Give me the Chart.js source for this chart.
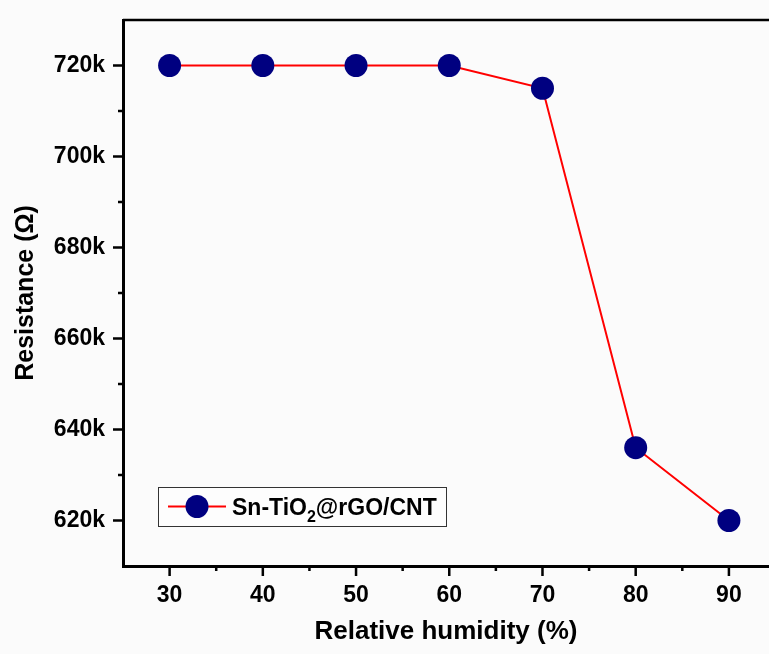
<!DOCTYPE html>
<html>
<head>
<meta charset="utf-8">
<script src="https://cdn.jsdelivr.net/npm/chart.js@4.4.1/dist/chart.umd.min.js"></script>
<style>
  body { margin: 0; background: #fbfbfb; }
  #wrap { width: 769px; height: 654px; position: relative; }
</style>
</head>
<body>
<div id="wrap"><canvas id="humidity-chart"></canvas></div>
<script>
// DATA ------------------------------------------
const humidity = [30, 40, 50, 60, 70, 80, 90];
const resistance = [720000, 720000, 720000, 720000, 715000, 636000, 620000];

const xTicks = [30, 40, 50, 60, 70, 80, 90];
const xMinorTicks = [35, 45, 55, 65, 75, 85];
const yTicks = [620000, 640000, 660000, 680000, 700000, 720000];
const yMinorTicks = [630000, 650000, 670000, 690000, 710000];

// legend text split so the "2" can be drawn as a subscript
const legendParts = ["Sn-TiO", "2", "@rGO/CNT"];

const FONT = "'Liberation Sans', Arial, sans-serif";
const NAVY = "#000080";

// frame line on top + major / minor tick marks, drawn outwards like Origin
const tickMarks = {
  id: "tickMarks",
  afterDraw(chart) {
    const { ctx, chartArea, scales: { x, y } } = chart;
    ctx.save();
    ctx.strokeStyle = "#000";
    ctx.lineWidth = 2.5;
    ctx.beginPath();
    ctx.moveTo(chartArea.left, chartArea.top);
    ctx.lineTo(chartArea.right, chartArea.top);
    const mark = (list, len, axis) => {
      list.forEach((v) => {
        if (axis === "x") {
          const px = x.getPixelForValue(v);
          ctx.moveTo(px, chartArea.bottom);
          ctx.lineTo(px, chartArea.bottom + len);
        } else {
          const py = y.getPixelForValue(v);
          ctx.moveTo(chartArea.left, py);
          ctx.lineTo(chartArea.left - len, py);
        }
      });
    };
    mark(xTicks, 10, "x");
    mark(xMinorTicks, 5, "x");
    mark(yTicks, 10, "y");
    mark(yMinorTicks, 5, "y");
    ctx.stroke();
    ctx.restore();
  },
};

// boxed legend in the lower left, with subscript
const boxLegend = {
  id: "boxLegend",
  afterDraw(chart) {
    const { ctx } = chart;
    const ds = chart.data.datasets[0];
    const bx = 158, by = 487, bw = 288, bh = 39;
    const cy = by + bh / 2;
    ctx.save();
    ctx.fillStyle = "#fdfdfd";
    ctx.fillRect(bx, by, bw, bh);
    ctx.strokeStyle = "#333";
    ctx.lineWidth = 1;
    ctx.strokeRect(bx + 0.5, by + 0.5, bw, bh);

    ctx.strokeStyle = ds.borderColor;
    ctx.lineWidth = ds.borderWidth;
    ctx.beginPath();
    ctx.moveTo(168, cy);
    ctx.lineTo(226, cy);
    ctx.stroke();
    ctx.fillStyle = ds.pointBackgroundColor;
    ctx.beginPath();
    ctx.arc(197, cy, 11.5, 0, Math.PI * 2);
    ctx.fill();

    ctx.fillStyle = "#000";
    ctx.textBaseline = "alphabetic";
    let tx = 232;
    const base = cy + 8;
    ctx.font = "bold 23px " + FONT;
    ctx.fillText(legendParts[0], tx, base);
    tx += ctx.measureText(legendParts[0]).width;
    ctx.font = "bold 16px " + FONT;
    ctx.fillText(legendParts[1], tx, base + 7);
    tx += ctx.measureText(legendParts[1]).width;
    ctx.font = "bold 23px " + FONT;
    ctx.fillText(legendParts[2], tx, base);
    ctx.restore();
  },
};

const chartData = {
  datasets: [
    {
      label: legendParts.join(""),
      data: humidity.map((h, i) => ({ x: h, y: resistance[i] })),
      borderColor: "#ff0000",
      borderWidth: 2,
      tension: 0,
      pointRadius: 11.5,
      pointHoverRadius: 11.5,
      pointBackgroundColor: NAVY,
      pointBorderColor: NAVY,
      pointBorderWidth: 0,
      clip: false,
    },
  ],
};

const chartOptions = {
  responsive: true,
  maintainAspectRatio: false,
  animation: false,
  events: [],
  layout: { autoPadding: false, padding: { top: 20, right: 0, bottom: 0, left: 0 } },
  plugins: {
    legend: { display: false },
    tooltip: { enabled: false },
  },
  scales: {
    x: {
      type: "linear",
      min: 25,
      max: 94.3,
      afterBuildTicks: (s) => { s.ticks = xTicks.map((v) => ({ value: v })); },
      afterFit: (s) => { s.height = 88; s.paddingLeft = 0; s.paddingRight = 0; },
      grid: { display: false, drawTicks: false },
      border: { display: true, color: "#000", width: 3 },
      ticks: {
        color: "#000",
        padding: 16,
        maxRotation: 0,
        font: { family: FONT, size: 23, weight: "bold" },
      },
      title: {
        display: true,
        text: "Relative humidity (%)",
        color: "#000",
        padding: { top: 0, bottom: 7 },
        font: { family: FONT, size: 26, weight: "bold" },
      },
    },
    y: {
      min: 610000,
      max: 730000,
      afterBuildTicks: (s) => { s.ticks = yTicks.map((v) => ({ value: v })); },
      afterFit: (s) => { s.width = 123; s.paddingTop = 0; s.paddingBottom = 0; },
      grid: { display: false, drawTicks: false },
      border: { display: true, color: "#000", width: 3 },
      ticks: {
        color: "#000",
        padding: 18,
        font: { family: FONT, size: 23, weight: "bold" },
        callback: (v) => v / 1000 + "k",
      },
      title: {
        display: true,
        text: "Resistance (Ω)",
        color: "#000",
        padding: { top: 11, bottom: 0 },
        font: { family: FONT, size: 25, weight: "bold" },
      },
    },
  },
};

const humidityChart = new Chart(document.querySelector("#humidity-chart"), {
  type: "line",
  data: chartData,
  options: chartOptions,
  plugins: [tickMarks, boxLegend],
});
</script>
</body>
</html>
